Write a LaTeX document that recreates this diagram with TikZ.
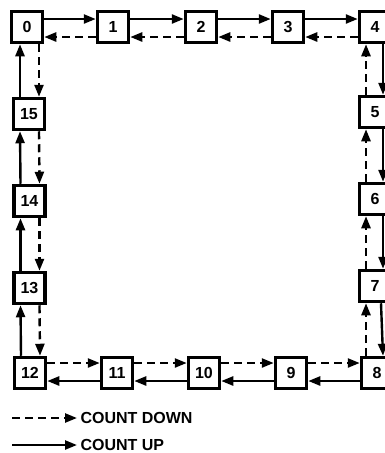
\documentclass[tikz,border=0pt]{standalone}
\usepackage{fontspec}
\setmainfont{Liberation Sans}
\usetikzlibrary{arrows.meta,positioning}

\begin{document}
\begin{tikzpicture}[x=1pt,y=-1pt,every node/.style={font=\fontsize{16}{18}\selectfont\bfseries},
  box/.style={draw,line width=3.5pt,minimum size=31pt,inner sep=0pt},
  cup/.style={line width=2.4pt,-{Triangle[length=12pt,width=9pt]}},
  cdown/.style={cup,dash pattern=on 8pt off 5pt}]
\useasboundingbox (0,0) rectangle (384,453);
\node[box] (S0) at (27,27) {0};
\node[box] (S1) at (113,27) {1};
\node[box] (S2) at (201,27) {2};
\node[box] (S3) at (288,27) {3};
\node[box] (S4) at (375,27) {4};
\node[box] (S5) at (375,112) {5};
\node[box] (S6) at (375,199) {6};
\node[box] (S7) at (375,286) {7};
\node[box] (S8) at (377,373) {8};
\node[box] (S9) at (291,373) {9};
\node[box] (S10) at (204,373) {10};
\node[box] (S11) at (117,373) {11};
\node[box] (S12) at (30,373) {12};
\node[box] (S13) at (29.5,288) {13};
\node[box] (S14) at (29.5,201) {14};
\node[box] (S15) at (29,114) {15};
% top row
\draw[cup] ([yshift=8pt]S0.east) -- ([yshift=8pt]S1.west);
\draw[cup] ([yshift=8pt]S1.east) -- ([yshift=8pt]S2.west);
\draw[cup] ([yshift=8pt]S2.east) -- ([yshift=8pt]S3.west);
\draw[cup] ([yshift=8pt]S3.east) -- ([yshift=8pt]S4.west);
\draw[cdown] ([yshift=-10pt]S1.west) -- ([yshift=-10pt]S0.east);
\draw[cdown] ([yshift=-10pt]S2.west) -- ([yshift=-10pt]S1.east);
\draw[cdown] ([yshift=-10pt]S3.west) -- ([yshift=-10pt]S2.east);
\draw[cdown] ([yshift=-10pt]S4.west) -- ([yshift=-10pt]S3.east);
% right column
\draw[cup] ([xshift=8pt]S4.south) -- ([xshift=8pt]S5.north);
\draw[cup] ([xshift=8pt]S5.south) -- ([xshift=8pt]S6.north);
\draw[cup] ([xshift=8pt]S6.south) -- ([xshift=8pt]S7.north);
\draw[cup] ([xshift=6pt]S7.south) -- ([xshift=6pt]S8.north);
\draw[cdown] ([xshift=-9pt]S5.north) -- ([xshift=-9pt]S4.south);
\draw[cdown] ([xshift=-9pt]S6.north) -- ([xshift=-9pt]S5.south);
\draw[cdown] ([xshift=-9pt]S7.north) -- ([xshift=-9pt]S6.south);
\draw[cdown] ([xshift=-11pt]S8.north) -- ([xshift=-9pt]S7.south);
% bottom row
\draw[cup] ([yshift=-8pt]S8.west) -- ([yshift=-8pt]S9.east);
\draw[cup] ([yshift=-8pt]S9.west) -- ([yshift=-8pt]S10.east);
\draw[cup] ([yshift=-8pt]S10.west) -- ([yshift=-8pt]S11.east);
\draw[cup] ([yshift=-8pt]S11.west) -- ([yshift=-8pt]S12.east);
\draw[cdown] ([yshift=10pt]S9.east) -- ([yshift=10pt]S8.west);
\draw[cdown] ([yshift=10pt]S10.east) -- ([yshift=10pt]S9.west);
\draw[cdown] ([yshift=10pt]S11.east) -- ([yshift=10pt]S10.west);
\draw[cdown] ([yshift=10pt]S12.east) -- ([yshift=10pt]S11.west);
% left column
\draw[cup] ([xshift=-9pt]S12.north) -- ([xshift=-9pt]S13.south);
\draw[cup] ([xshift=-9pt]S13.north) -- ([xshift=-9pt]S14.south);
\draw[cup] ([xshift=-9pt]S14.north) -- ([xshift=-9pt]S15.south);
\draw[cup] ([xshift=-9pt]S15.north) -- ([xshift=-7pt]S0.south);
\draw[cdown] ([xshift=10pt]S13.south) -- ([xshift=10pt]S12.north);
\draw[cdown] ([xshift=10pt]S14.south) -- ([xshift=10pt]S13.north);
\draw[cdown] ([xshift=10pt]S15.south) -- ([xshift=10pt]S14.north);
\draw[cdown] ([xshift=12pt]S0.south) -- ([xshift=10pt]S15.north);
% legend
\coordinate (dA) at (12,418);
\coordinate (uA) at (12,445);
\node[anchor=west] (down) at (77,418) {COUNT DOWN};
\node[anchor=west] (up) at (77,445) {COUNT UP};
\draw[cdown] (dA) -- (down.west);
\draw[cup] (uA) -- (up.west);
\end{tikzpicture}
\end{document}
